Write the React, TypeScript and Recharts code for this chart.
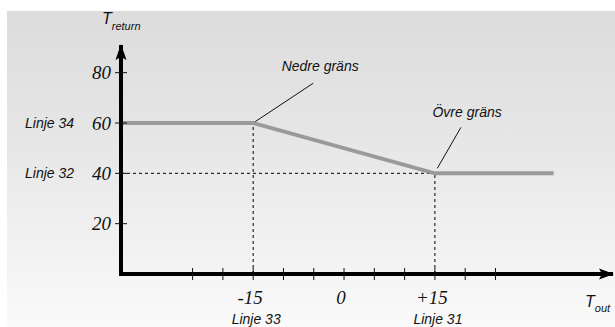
import React from 'react';
import { LineChart, Line, XAxis, YAxis, ReferenceLine, ReferenceDot } from 'recharts';

// Axis extents (data units)
const X_LEFT = -37.15; // left edge of plotting window
const X_MIN = -36.82; // where the vertical axis stands
const X_MAX = 44.4;
const Y_MIN = 0;
const Y_MAX = 91;

// Ticks and labels
const xTicks = [-25, -20, -15, -10, -5, 0, 5, 10, 15, 20, 25];
const xTickLabels: Record<string, string> = { '-15': '-15', '0': '0', '15': '+15' };
const xLineLabels: Record<string, string> = { '-15': 'Linje 33', '15': 'Linje 31' };
const yTicks = [20, 40, 60, 80];
const yLineLabels: Record<string, string> = { '60': 'Linje 34', '40': 'Linje 32' };

// Curve: T_return vs T_out
const curveX = [X_MIN, -15, 15, 34.6];
const curveY = [60, 60, 40, 40];
const curve = curveX.map((x, i) => ({ x, y: curveY[i] }));

// Break points
const lowerX = -15;
const lowerY = 60;
const upperX = 15;
const upperY = 40;

const SERIF = '"Liberation Serif", "DejaVu Serif", serif';
const SANS = '"Liberation Sans", Arial, sans-serif';

const serifStyle = { fontFamily: SERIF, fontStyle: 'italic' as const };
const sansStyle = { fontFamily: SANS, fontStyle: 'italic' as const };

const XTick = (props: any) => {
  const { x, y, payload } = props;
  const key = String(payload.value);
  return (
    <g>
      <line x1={x} x2={x} y1={y - 6} y2={y + 6} stroke="#111" strokeWidth={1} />
      {xTickLabels[key] !== undefined && (
        <text x={x - 3} y={y + 30} textAnchor="middle" style={{ ...serifStyle, fontSize: 19 }} fill="#111">
          {xTickLabels[key]}
        </text>
      )}
      {xLineLabels[key] !== undefined && (
        <text x={x + 3} y={y + 50} textAnchor="middle" style={{ ...sansStyle, fontSize: 14 }} fill="#111">
          {xLineLabels[key]}
        </text>
      )}
    </g>
  );
};

const YTick = (props: any) => {
  const { y, payload } = props;
  const x = props.x + 2;
  const key = String(payload.value);
  return (
    <g>
      <line x1={x - 6} x2={x + 6} y1={y} y2={y} stroke="#111" strokeWidth={1} />
      <text x={x - 10} y={y + 6.5} textAnchor="end" style={{ ...serifStyle, fontSize: 19 }} fill="#111">
        {key}
      </text>
      {yLineLabels[key] !== undefined && (
        <text x={25} y={y + 4.5} textAnchor="start" style={{ ...sansStyle, fontSize: 14 }} fill="#111">
          {yLineLabels[key]}
        </text>
      )}
    </g>
  );
};

const ArrowRight = (p: any) => {
  const { cx, cy } = p;
  const t = cx + 1;
  return <polygon points={`${t},${cy} ${t - 15},${cy - 5.5} ${t - 12},${cy} ${t - 15},${cy + 5.5}`} fill="#000" />;
};

const ArrowUp = (p: any) => {
  const { cx, cy } = p;
  const t = cy - 1;
  return <polygon points={`${cx},${t} ${cx - 5.5},${t + 16} ${cx},${t + 13} ${cx + 5.5},${t + 16}`} fill="#000" />;
};

const TextAt = (text: string, size: number) => (p: any) => (
  <text x={p.cx} y={p.cy} style={{ ...sansStyle, fontSize: size }} fill="#111">
    {text}
  </text>
);

export default function App() {
  return (
    <div style={{ position: 'absolute', left: 0, top: 0, width: 615, height: 327 }}>
      <div
        style={{
          position: 'absolute',
          left: 7,
          top: 11,
          width: 608,
          height: 316,
          background: 'linear-gradient(to bottom, #dcdcdc 0%, #e6e6e6 40%, #fafafa 100%)',
        }}
      />
      <div style={{ position: 'absolute', left: 0, top: 0 }}>
        <LineChart
          width={615}
          height={327}
          data={curve}
          margin={{ top: 45, right: 2, bottom: 52, left: 118 }}
        >
          <XAxis
            type="number"
            dataKey="x"
            domain={[X_LEFT, X_MAX]}
            allowDataOverflow
            ticks={xTicks}
            interval={0}
            height={1}
            tickSize={0}
            tickMargin={0}
            tickLine={false}
            axisLine={false}
            tick={<XTick />}
          />
          <YAxis
            type="number"
            domain={[Y_MIN, Y_MAX]}
            allowDataOverflow
            ticks={yTicks}
            interval={0}
            width={1}
            tickSize={0}
            tickMargin={0}
            tickLine={false}
            axisLine={false}
            tick={<YTick />}
            label={{
              content: () => (
                <text x={102} y={23.5} style={sansStyle} fill="#111">
                  <tspan fontSize={16}>T</tspan>
                  <tspan fontSize={11} dy={6}>return</tspan>
                </text>
              ),
            }}
          />
          <ReferenceLine
            segment={[{ x: X_MIN, y: upperY }, { x: upperX, y: upperY }]}
            stroke="#000"
            strokeWidth={1}
            strokeDasharray="3 3"
          />
          <ReferenceLine
            segment={[{ x: lowerX, y: Y_MIN }, { x: lowerX, y: lowerY }]}
            stroke="#000"
            strokeWidth={1}
            strokeDasharray="3 3"
          />
          <ReferenceLine
            segment={[{ x: upperX, y: Y_MIN }, { x: upperX, y: upperY }]}
            stroke="#000"
            strokeWidth={1}
            strokeDasharray="3 3"
          />
          <ReferenceLine
            segment={[{ x: lowerX, y: lowerY }, { x: -5.1, y: 75.8 }]}
            stroke="#111"
            strokeWidth={1}
          />
          <ReferenceLine
            segment={[{ x: 15.4, y: 42 }, { x: 19.3, y: 58.3 }]}
            stroke="#111"
            strokeWidth={1}
          />
          <Line
            type="linear"
            dataKey="y"
            stroke="#9a9a9a"
            strokeWidth={4}
            dot={false}
            activeDot={false}
            isAnimationActive={false}
          />
          <ReferenceLine
            segment={[{ x: X_MIN, y: Y_MIN }, { x: X_MAX, y: Y_MIN }]}
            stroke="#000"
            strokeWidth={4}
            ifOverflow="visible"
          />
          <ReferenceLine
            segment={[{ x: X_MIN, y: Y_MIN }, { x: X_MIN, y: Y_MAX }]}
            stroke="#000"
            strokeWidth={4}
            ifOverflow="visible"
          />
          <ReferenceDot x={X_MIN} y={Y_MIN} r={0} ifOverflow="visible"
            shape={(p: any) => <rect x={p.cx - 2} y={p.cy - 2} width={4} height={4} fill="#000" />} />
          <ReferenceDot x={X_MAX} y={Y_MIN} r={0} ifOverflow="visible" shape={ArrowRight} />
          <ReferenceDot x={X_MIN} y={Y_MAX} r={0} ifOverflow="visible" shape={ArrowUp} />
          <ReferenceDot x={-10.3} y={80.6} r={0} ifOverflow="visible" shape={TextAt('Nedre gräns', 14)} />
          <ReferenceDot x={14.6} y={62.2} r={0} ifOverflow="visible" shape={TextAt('Övre gräns', 14)} />
          <ReferenceDot
            x={X_MAX}
            y={Y_MIN}
            r={0}
            ifOverflow="visible"
            shape={(p: any) => (
              <text x={p.cx - 28} y={p.cy + 33} style={sansStyle} fill="#111">
                <tspan fontSize={16}>T</tspan>
                <tspan fontSize={11} dy={5}>out</tspan>
              </text>
            )}
          />
        </LineChart>
      </div>
    </div>
  );
}
